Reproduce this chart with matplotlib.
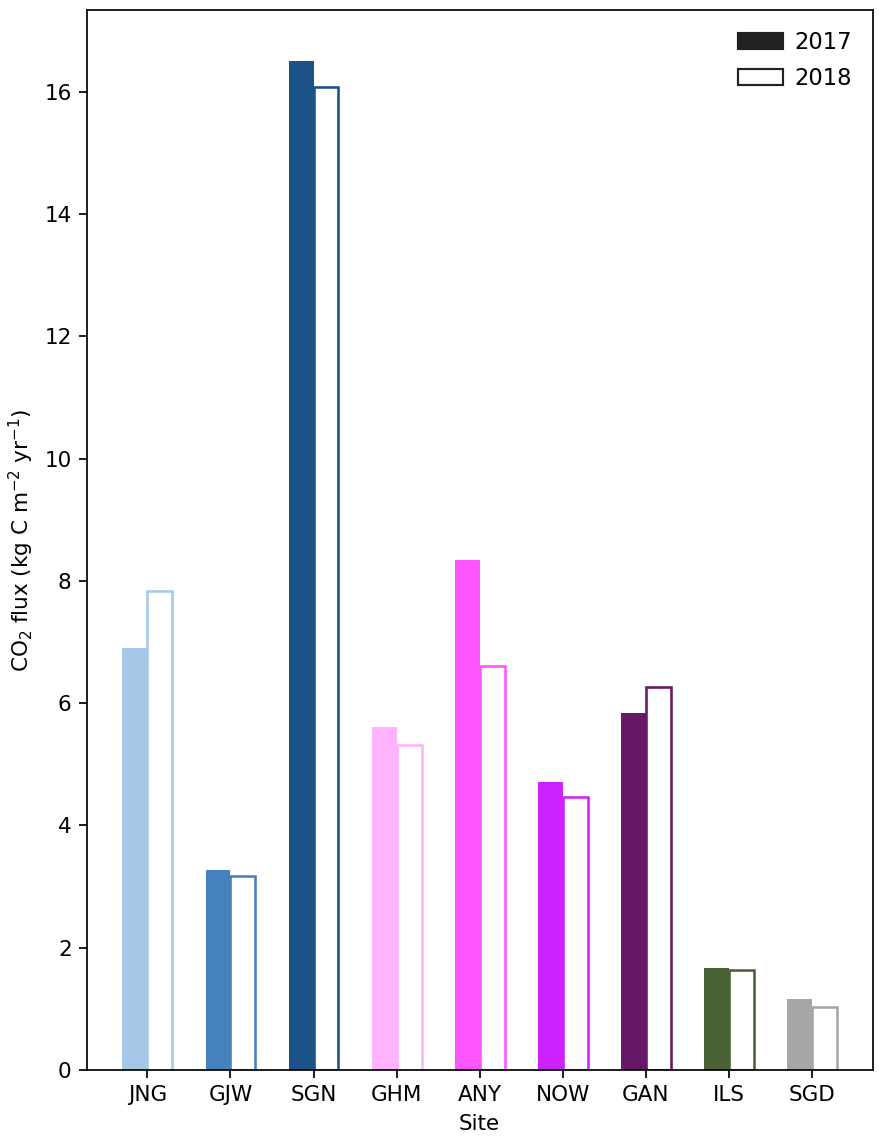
import numpy as np
import matplotlib
matplotlib.use("Agg")
import matplotlib.pyplot as plt
from matplotlib.patches import Patch

# Standorte und Jahreswerte
sites = ["JNG", "GJW", "SGN", "GHM", "ANY", "NOW", "GAN", "ILS", "SGD"]
flux_2017 = [6.90, 3.27, 16.51, 5.61, 8.34, 4.71, 5.84, 1.67, 1.16]
flux_2018 = [7.84, 3.18, 16.08, 5.31, 6.61, 4.47, 6.27, 1.64, 1.03]
site_colors = ["#a6c8e8", "#4682bd", "#1b5287", "#ffb3ff", "#ff55ff",
               "#cc22ff", "#661966", "#4a6336", "#a6a6a6"]

fig = plt.figure(figsize=(885 / 155, 1137 / 155), dpi=155)
ax = fig.add_subplot(111)
fig.subplots_adjust(left=0.098, right=0.986, top=0.991, bottom=0.059)

x = np.arange(len(sites))
w = 0.3

ax.bar(x, flux_2017, width=-w, align="edge", color=site_colors)
ax.bar(x, flux_2018, width=w, align="edge", color="white",
       edgecolor=site_colors, linewidth=1.2)

ax.set_xticks(x)
ax.set_xticklabels(sites)
ax.set_xlabel("Site")
ax.set_ylabel(r"CO$_2$ flux (kg C m$^{-2}$ yr$^{-1}$)")

handles = [Patch(facecolor="#222222", edgecolor="#222222", label="2017"),
           Patch(facecolor="white", edgecolor="#222222", label="2018")]
ax.legend(handles=handles, loc="upper right", frameon=False, fontsize=10.5,
          handletextpad=0.5, borderaxespad=0.5, labelspacing=0.6)

fig.savefig("out.png", dpi=155)
